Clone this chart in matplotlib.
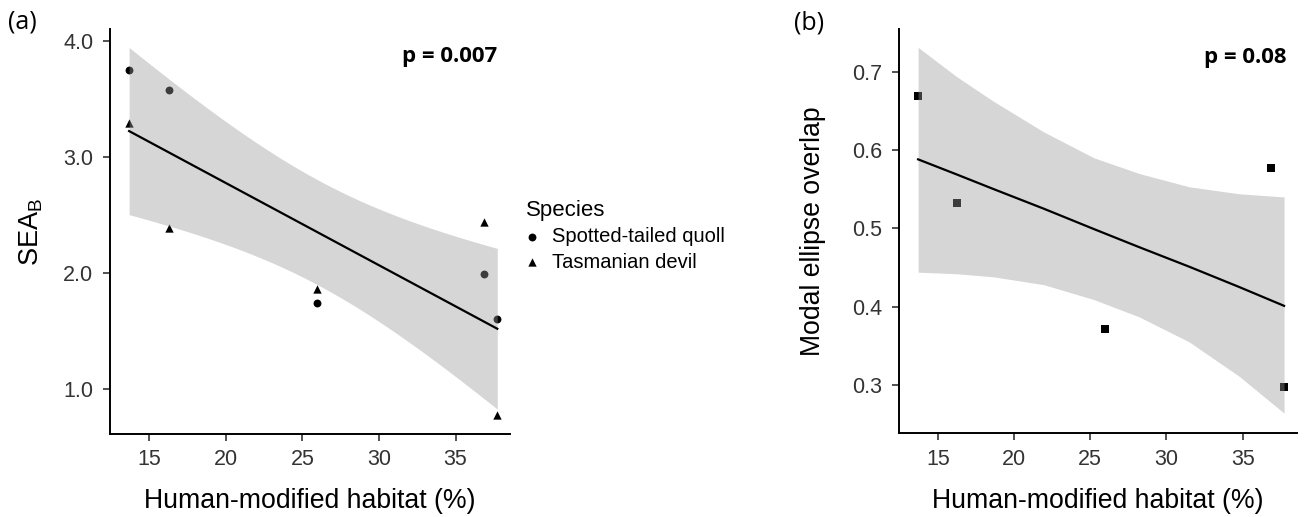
"""Isotopic niche size (SEA_B) and modal ellipse overlap vs human-modified habitat, two panels."""
import numpy as np
import matplotlib
matplotlib.use("Agg")
import matplotlib.pyplot as plt

plt.rcParams.update({"font.family": ["Liberation Sans", "DejaVu Sans"], "mathtext.fontset": "custom",
                     "mathtext.rm": "Liberation Sans", "axes.linewidth": 1.4})

# % human-modified habitat per site (shared by both panels)
habitat = [13.7, 16.27, 25.98, 36.88, 37.72]
# panel (a): SEA_B per species
sea_quoll = [3.744, 3.578, 1.739, 1.989, 1.601]
sea_devil = [3.29, 2.385, 1.862, 2.44, 0.776]
p_a = "p = 0.007"
# panel (b): modal ellipse overlap, fitted line and ribbon
overlap = [0.669, 0.532, 0.372, 0.577, 0.298]
fit_b_x = [13.7, 16.2, 18.66, 21.95, 25.24, 28.2, 31.49, 34.78, 37.72]
fit_b_y = [0.588, 0.569, 0.550, 0.525, 0.499, 0.476, 0.451, 0.425, 0.401]
fit_b_lo = [0.444, 0.442, 0.438, 0.428, 0.409, 0.387, 0.355, 0.311, 0.264]
fit_b_hi = [0.731, 0.694, 0.662, 0.623, 0.590, 0.570, 0.553, 0.544, 0.540]
p_b = "p = 0.08"

T_CRIT_DF8 = 2.306  # 97.5% t quantile, 8 df (10 points - 2)
RIB = dict(color="#999999", alpha=0.4, lw=0, zorder=3)
TICK = "#333333"


def lm_band(x, y, t):
    x = np.asarray(x, float); y = np.asarray(y, float)
    b, a = np.polyfit(x, y, 1)
    s = np.sqrt(np.sum((y - (a + b * x)) ** 2) / (len(x) - 2))
    g = np.linspace(x.min(), x.max(), 200)
    se = s * np.sqrt(1 / len(x) + (g - x.mean()) ** 2 / np.sum((x - x.mean()) ** 2))
    f = a + b * g
    return g, f, f - t * se, f + t * se


def style(ax, ylim, yticks, fmt):
    ax.set_xlim(12.45, 38.55); ax.set_ylim(*ylim)
    ax.set_xticks([15, 20, 25, 30, 35]); ax.set_yticks(yticks)
    ax.set_yticklabels([fmt % v for v in yticks])
    for s in ("top", "right"):
        ax.spines[s].set_visible(False)
    ax.tick_params(labelsize=15.5, colors=TICK, length=5, width=1.2)
    ax.tick_params(axis="y", pad=7); ax.tick_params(axis="x", pad=6)
    ax.set_xlabel("Human-modified habitat (%)", fontsize=19.2, labelpad=13)


fig = plt.figure(figsize=(13.06, 5.17), dpi=100)
ax = fig.add_axes([0.0842, 0.1605, 0.3063, 0.7834])
bx = fig.add_axes([0.6884, 0.1619, 0.3045, 0.7814])

# (a)
ax.scatter(habitat, sea_quoll, marker="o", s=32, color="black", lw=0, zorder=2, label="Spotted-tailed quoll")
ax.scatter(habitat, sea_devil, marker="^", s=36, color="black", lw=0, zorder=2, label="Tasmanian devil")
g, f, lo, hi = lm_band(habitat * 2, sea_quoll + sea_devil, T_CRIT_DF8)
ax.fill_between(g, lo, hi, **RIB)
ax.plot(g, f, color="black", lw=1.6, zorder=4)
style(ax, (0.61, 4.10), [1.0, 2.0, 3.0, 4.0], "%.1f")
ax.set_ylabel(r"SEA$_\mathregular{B}$", fontsize=19.5, labelpad=13)
ax.text(0.967, 0.931, p_a, transform=ax.transAxes, ha="right", va="center",
        fontsize=16, fontweight="bold", family="Open Sans")
leg = ax.legend(loc="center left", bbox_to_anchor=(1.04, 0.49), frameon=False, title="Species",
                fontsize=14.5, title_fontsize=16, handlelength=0.6, handletextpad=0.7,
                labelspacing=0.32, borderpad=0, borderaxespad=0)
leg._legend_box.align = "left"

# (b)
bx.scatter(habitat, overlap, marker="s", s=30, color="black", lw=0, zorder=2)
bx.fill_between(fit_b_x, fit_b_lo, fit_b_hi, **RIB)
bx.plot(fit_b_x, fit_b_y, color="black", lw=1.6, zorder=4)
style(bx, (0.2383, 0.754), [0.3, 0.4, 0.5, 0.6, 0.7], "%.1f")
bx.set_ylabel("Modal ellipse overlap", fontsize=19.2, labelpad=19)
bx.text(0.975, 0.931, p_b, transform=bx.transAxes, ha="right", va="center",
        fontsize=16, fontweight="bold", family="Open Sans")

fig.text(0.006, 0.958, "(a)", fontsize=18, family="Open Sans", va="center")
fig.text(0.608, 0.955, "(b)", fontsize=18, family="Open Sans", va="center")

fig.savefig("out.png", dpi=100)
plt.close(fig)
